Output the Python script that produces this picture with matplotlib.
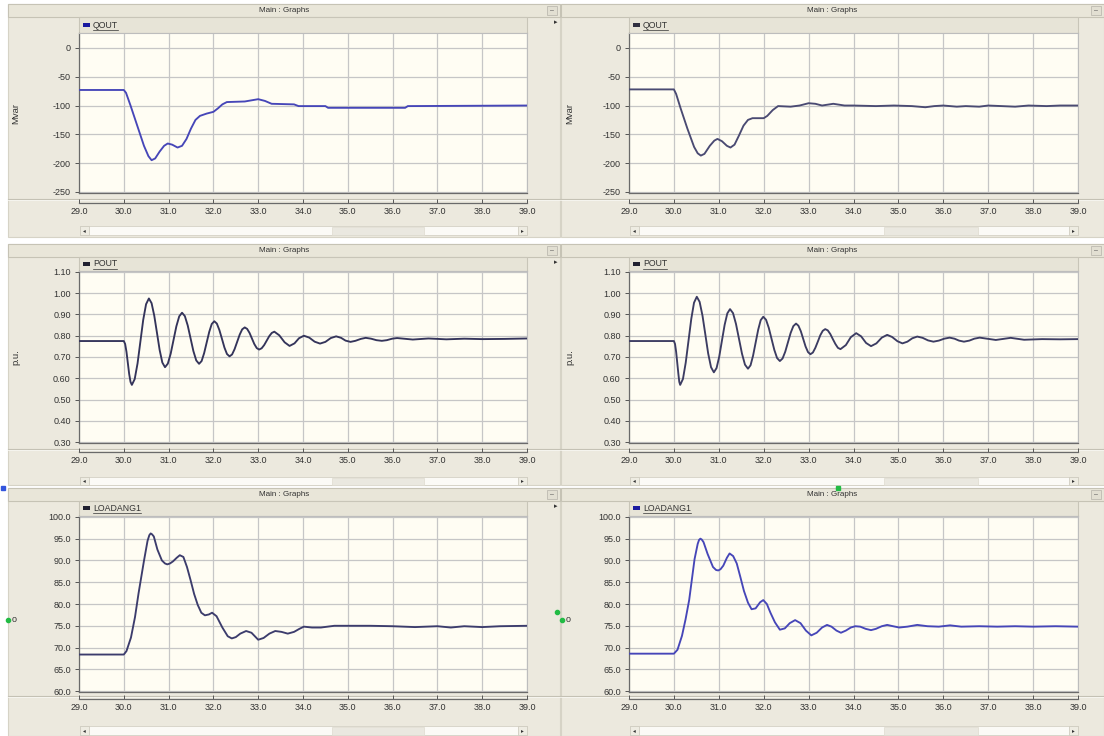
import matplotlib
matplotlib.use('Agg')
import matplotlib.pyplot as plt
from matplotlib.patches import Rectangle

# ---- data (time in s) ----
t_qout_a = [29.0, 30.0, 30.05, 30.15, 30.3, 30.45, 30.55, 30.62, 30.7, 30.8, 30.9, 30.98, 31.08, 31.2,
            31.3, 31.4, 31.5, 31.6, 31.7, 31.85, 32.0, 32.1, 32.2, 32.3, 32.7, 32.85, 33.0, 33.15, 33.3,
            33.8, 33.9, 34.5, 34.56, 36.28, 36.34, 39.0]
qout_a = [-73, -73, -78, -100, -135, -170, -188, -195, -192, -180, -170, -166, -168, -173,
          -170, -158, -140, -125, -118, -114, -111, -105, -98, -94, -93, -91, -89, -92, -97,
          -98, -101, -101, -104, -104, -101, -100]

t_qout_b = [29.0, 30.0, 30.05, 30.15, 30.3, 30.45, 30.53, 30.6, 30.68, 30.8, 30.9, 30.97, 31.07, 31.18,
            31.26, 31.35, 31.45, 31.55, 31.65, 31.75, 32.0, 32.08, 32.2, 32.32, 32.6, 32.8, 33.0, 33.15,
            33.3, 33.55, 33.8, 34.0, 34.5, 34.9, 35.3, 35.6, 35.8, 36.0, 36.3, 36.5, 36.8, 37.0, 37.3,
            37.6, 37.9, 38.3, 38.6, 39.0]
qout_b = [-72, -72, -80, -105, -140, -172, -183, -187, -184, -170, -161, -158, -162, -170,
          -173, -168, -152, -135, -125, -122, -122, -118, -108, -101, -102, -100, -96, -97,
          -100, -97, -100, -100, -101, -100, -101, -103, -101, -100, -102, -101, -102, -100, -101,
          -102, -100, -101, -100, -100]

t_pout_a = [29.0, 30.0, 30.03, 30.06, 30.09, 30.12, 30.15, 30.18,
            30.243, 30.307, 30.37, 30.433, 30.497, 30.56,
            30.62, 30.68, 30.74, 30.8, 30.86, 30.92,
            30.983, 31.047, 31.11, 31.173, 31.237, 31.3,
            31.363, 31.427, 31.49, 31.553, 31.617, 31.68,
            31.737, 31.793, 31.85, 31.907, 31.963, 32.02,
            32.077, 32.133, 32.19, 32.247, 32.303, 32.36,
            32.417, 32.473, 32.53, 32.587, 32.643, 32.7,
            32.753, 32.807, 32.86, 32.913, 32.967, 33.02,
            33.077, 33.133, 33.19, 33.247, 33.303, 33.36,
            33.47, 33.59, 33.7, 33.81, 33.91, 34.02, 34.14, 34.26,
            34.38, 34.5, 34.62, 34.74, 34.85, 34.95, 35.06, 35.17, 35.29, 35.4, 35.52, 35.64, 35.76,
            35.87, 35.99, 36.1, 36.45, 36.8, 37.2, 37.6, 38.0, 38.5, 39.0]
pout_a = [0.775, 0.775, 0.761, 0.724, 0.672, 0.620, 0.583, 0.569,
          0.596, 0.670, 0.772, 0.874, 0.948, 0.975,
          0.953, 0.894, 0.814, 0.733, 0.674, 0.652,
          0.669, 0.716, 0.780, 0.844, 0.891, 0.908,
          0.892, 0.848, 0.788, 0.728, 0.684, 0.668,
          0.681, 0.718, 0.768, 0.818, 0.855, 0.868,
          0.857, 0.827, 0.786, 0.744, 0.714, 0.703,
          0.712, 0.737, 0.771, 0.805, 0.830, 0.839,
          0.832, 0.813, 0.787, 0.761, 0.742, 0.735,
          0.741, 0.756, 0.777, 0.798, 0.813, 0.819,
          0.802, 0.769, 0.752, 0.764, 0.788, 0.800, 0.791, 0.772,
          0.763, 0.771, 0.789, 0.797, 0.790, 0.777, 0.771, 0.776, 0.785, 0.790, 0.786, 0.779, 0.776,
          0.779, 0.786, 0.789, 0.782, 0.787, 0.783, 0.786, 0.784, 0.785, 0.787]

t_pout_b = [29.0, 30.0, 30.025, 30.05, 30.075, 30.1, 30.12, 30.14,
            30.202, 30.263, 30.325, 30.387, 30.448, 30.51,
            30.573, 30.637, 30.7, 30.763, 30.827, 30.89,
            30.95, 31.01, 31.07, 31.13, 31.19, 31.25,
            31.317, 31.383, 31.45, 31.517, 31.583, 31.65,
            31.707, 31.763, 31.82, 31.877, 31.933, 31.99,
            32.052, 32.113, 32.175, 32.237, 32.298, 32.36,
            32.42, 32.48, 32.54, 32.6, 32.66, 32.72,
            32.773, 32.827, 32.88, 32.933, 32.987, 33.04,
            33.095, 33.15, 33.205, 33.26, 33.315, 33.37,
            33.427, 33.483, 33.54, 33.597, 33.653, 33.71,
            33.83, 33.94, 34.06, 34.17, 34.28,
            34.39, 34.51, 34.63, 34.75, 34.86, 34.98, 35.09, 35.2, 35.31, 35.42, 35.54, 35.66, 35.78,
            35.9, 36.02, 36.14, 36.25, 36.35, 36.46, 36.58, 36.69, 36.81, 37.17, 37.5, 37.8, 38.2,
            38.6, 39.0]
pout_b = [0.775, 0.775, 0.761, 0.724, 0.672, 0.620, 0.583, 0.569,
          0.597, 0.673, 0.776, 0.879, 0.955, 0.983,
          0.959, 0.894, 0.806, 0.717, 0.652, 0.628,
          0.648, 0.702, 0.777, 0.851, 0.905, 0.925,
          0.906, 0.855, 0.785, 0.715, 0.664, 0.645,
          0.661, 0.706, 0.767, 0.828, 0.873, 0.889,
          0.875, 0.837, 0.785, 0.733, 0.695, 0.681,
          0.693, 0.725, 0.769, 0.813, 0.845, 0.857,
          0.847, 0.821, 0.785, 0.749, 0.723, 0.713,
          0.721, 0.743, 0.772, 0.802, 0.823, 0.831,
          0.825, 0.808, 0.784, 0.761, 0.743, 0.737,
          0.756, 0.793, 0.812, 0.797, 0.766,
          0.751, 0.764, 0.791, 0.804, 0.794, 0.774, 0.764, 0.772, 0.788, 0.796, 0.790, 0.778, 0.772,
          0.777, 0.786, 0.791, 0.786, 0.777, 0.772, 0.777, 0.786, 0.791, 0.780, 0.790, 0.781, 0.784,
          0.783, 0.784]

t_ang_a = [29.0, 30.0, 30.06, 30.16, 30.25, 30.33, 30.45, 30.53, 30.57, 30.6, 30.63, 30.67, 30.75,
           30.85, 30.92, 30.97, 31.03, 31.1, 31.18, 31.25, 31.33, 31.41, 31.49, 31.57, 31.65, 31.73,
           31.81, 31.9, 31.97, 32.07, 32.2, 32.32, 32.41, 32.5, 32.6, 32.73, 32.85, 33.0, 33.12, 33.25,
           33.38, 33.52, 33.66, 33.8, 33.92, 34.02, 34.2, 34.4, 34.7, 35.0, 35.5, 36.0, 36.5, 37.0,
           37.3, 37.6, 38.0, 38.4, 39.0]
ang_a = [68.4, 68.4, 69.2, 72.3, 77.0, 82.5, 89.9, 94.5, 95.8, 96.2, 96.0, 95.5, 92.5,
         90.0, 89.3, 89.1, 89.3, 89.8, 90.6, 91.2, 90.8, 88.5, 85.5, 82.3, 79.8, 78.0,
         77.4, 77.6, 78.0, 77.2, 74.6, 72.6, 72.1, 72.4, 73.2, 73.8, 73.4, 71.8, 72.2, 73.2,
         73.8, 73.6, 73.2, 73.6, 74.3, 74.8, 74.6, 74.6, 75.0, 75.0, 75.0, 74.9, 74.7, 74.9,
         74.6, 74.9, 74.7, 74.9, 75.0]

t_ang_b = [29.0, 30.0, 30.08, 30.18, 30.26, 30.34, 30.46, 30.53, 30.56, 30.59, 30.62, 30.66, 30.75,
           30.87, 30.94, 30.99, 31.04, 31.1, 31.18, 31.24, 31.32, 31.4, 31.48, 31.56, 31.65, 31.73,
           31.82, 31.92, 31.99, 32.07, 32.15, 32.25, 32.36, 32.47, 32.58, 32.7, 32.82, 32.94, 33.06,
           33.18, 33.3, 33.41, 33.51, 33.62, 33.72, 33.83, 33.94, 34.04, 34.15, 34.27, 34.39, 34.5,
           34.63, 34.75, 34.88, 35.02, 35.2, 35.42, 35.65, 35.9, 36.15, 36.4, 36.8, 37.2, 37.6, 38.0,
           38.5, 39.0]
ang_b = [68.6, 68.6, 69.5, 72.7, 76.5, 80.9, 90.3, 93.8, 94.7, 95.0, 94.8, 94.2, 91.5,
         88.5, 87.8, 87.7, 88.0, 88.8, 90.6, 91.6, 91.0, 89.3, 86.2, 83.0, 80.3, 78.8,
         79.0, 80.4, 80.9, 80.0, 78.0, 75.8, 74.1, 74.4, 75.6, 76.3, 75.6, 73.9, 72.8,
         73.4, 74.6, 75.2, 74.8, 73.9, 73.4, 73.9, 74.6, 74.9, 74.8, 74.3, 74.0, 74.3,
         74.9, 75.2, 74.9, 74.6, 74.8, 75.2, 74.9, 74.8, 75.1, 74.8, 74.9, 74.8, 74.9, 74.8,
         74.9, 74.8]

x_ticks = [29, 30, 31, 32, 33, 34, 35, 36, 37, 38, 39]
q_ticks = [0, -50, -100, -150, -200, -250]
p_ticks = [1.10, 1.00, 0.90, 0.80, 0.70, 0.60, 0.50, 0.40, 0.30]
a_ticks = [100, 95, 90, 85, 80, 75, 70, 65, 60]

W, H = 1104, 736
plt.rcParams['font.family'] = ['Liberation Sans', 'DejaVu Sans']
fig = plt.figure(figsize=(W / 100, H / 100), dpi=100, facecolor='white')
renderer = fig.canvas.get_renderer()


def frac(x0, y0, x1, y1):
    return [x0 / W, 1 - y1 / H, (x1 - x0) / W, (y1 - y0) / H]


bg = fig.add_axes([0, 0, 1, 1])
bg.set_xlim(0, W)
bg.set_ylim(H, 0)
bg.axis('off')

# pixel layout of the PSCAD windows
cols = [dict(px0=8, px1=560, ax0=79, ax1=527, thumb=(332, 424), ylab=16),
        dict(px0=561, px1=1104, ax0=629, ax1=1078, thumb=(884, 978), ylab=570)]
rows = [dict(py0=4, py1=237, title=(4, 17), leg=(17, 33), plot=(33, 193), sep=199, xax=203, sb=(226, 235)),
        dict(py0=244, py1=485, title=(244, 257), leg=(257, 271), plot=(271, 443), sep=449, xax=452, sb=(477, 485)),
        dict(py0=488, py1=736, title=(488, 501), leg=(501, 516), plot=(516, 692), sep=696, xax=699, sb=(726, 735))]

panels = [
    (0, 0, t_qout_a, qout_a, 'QOUT', '#4646b8', '#1a1aa0', (-252, 26), q_ticks, '{:.0f}', 'Mvar'),
    (0, 1, t_qout_b, qout_b, 'QOUT', '#4a4a72', '#303040', (-252, 26), q_ticks, '{:.0f}', 'Mvar'),
    (1, 0, t_pout_a, pout_a, 'POUT', '#34345a', '#202030', (0.296, 1.104), p_ticks, '{:.2f}', 'p.u.'),
    (1, 1, t_pout_b, pout_b, 'POUT', '#3c3c62', '#202030', (0.296, 1.104), p_ticks, '{:.2f}', 'p.u.'),
    (2, 0, t_ang_a, ang_a, 'LOADANG1', '#3c3c6c', '#202030', (59.8, 100.2), a_ticks, '{:.1f}', 'o'),
    (2, 1, t_ang_b, ang_b, 'LOADANG1', '#4646b8', '#1a1aa0', (59.8, 100.2), a_ticks, '{:.1f}', 'o'),
]

for r, c, tt, vv, name, lc, mc, ylim, yt, fmt, unit in panels:
    row, col = rows[r], cols[c]
    px0, px1, ax0, ax1 = col['px0'], col['px1'], col['ax0'], col['ax1']

    # window frame
    bg.add_patch(Rectangle((px0, row['py0']), px1 - px0, row['py1'] - row['py0'],
                           facecolor='#ece9de', edgecolor='#d6d3c6', lw=0.8))
    ty0, ty1 = row['title']
    bg.add_patch(Rectangle((px0, ty0), px1 - px0, ty1 - ty0, facecolor='#e9e6d9',
                           edgecolor='#c6c3b5', lw=0.8))
    bg.text((px0 + px1) / 2, (ty0 + ty1) / 2 + 0.5, 'Main : Graphs', fontsize=5.8,
            color='#333333', ha='center', va='center')
    bg.add_patch(Rectangle((px1 - 13, ty0 + 2), 10, ty1 - ty0 - 4, facecolor='#e2dfd2',
                           edgecolor='#bdbab0', lw=0.6))
    bg.text(px1 - 8, (ty0 + ty1) / 2, '–', fontsize=5, color='#555555', ha='center', va='center')
    if c == 0:
        bg.text(px1 - 4, ty1 + 5, '▸', fontsize=5, color='#333333', ha='center', va='center',
                family=['DejaVu Sans'])

    # legend strip with underlined signal name
    ly0, ly1 = row['leg']
    bg.add_patch(Rectangle((ax0, ly0), ax1 - ax0, ly1 - ly0, facecolor='#e7e4d7',
                           edgecolor='#c8c5b8', lw=0.8))
    bg.add_patch(Rectangle((ax0 + 4, (ly0 + ly1) / 2 - 2.5), 7, 4, facecolor=mc, edgecolor='none'))
    lab = bg.text(ax0 + 14, (ly0 + ly1) / 2, name, fontsize=6.3,
                  color='#333333', ha='left', va='center')
    bb = lab.get_window_extent(renderer=renderer)
    x_end = ax0 + 14 + bb.width
    bg.plot([ax0 + 14, x_end], [(ly0 + ly1) / 2 + 4.5, (ly0 + ly1) / 2 + 4.5], color='#333333', lw=0.5)

    # separator and scrollbar
    bg.plot([px0, px1], [row['sep'], row['sep']], color='#c4c1b4', lw=0.8)
    bg.plot([px0, px1], [row['sep'] + 1, row['sep'] + 1], color='#f8f7f2', lw=0.6)
    sy0, sy1 = row['sb']
    bg.add_patch(Rectangle((ax0 + 1, sy0), ax1 - ax0 - 1, sy1 - sy0, facecolor='#fbfaf6',
                           edgecolor='#d4d1c6', lw=0.6))
    bg.add_patch(Rectangle((col['thumb'][0], sy0 + 0.5), col['thumb'][1] - col['thumb'][0], sy1 - sy0 - 1,
                           facecolor='#eae8e0', edgecolor='#dedbd0', lw=0.5))
    for bx, glyph in ((ax0 + 1, '◂'), (ax1 - 9, '▸')):
        bg.add_patch(Rectangle((bx, sy0), 9, sy1 - sy0, facecolor='#eeece2', edgecolor='#cfccc0', lw=0.6))
        bg.text(bx + 4.5, (sy0 + sy1) / 2, glyph, fontsize=4, color='#333333', ha='center', va='center',
                family=['DejaVu Sans'])

    # axis unit label
    p0, p1 = row['plot']
    if unit == 'o':
        bg.text(col['ylab'] - 2, (p0 + p1) / 2 + 16, unit, fontsize=6.5, color='#333333',
                ha='center', va='center')
        bg.plot([col['ylab'] - 8], [(p0 + p1) / 2 + 16], 'o', ms=3, color='#22bb44')
    else:
        bg.text(col['ylab'], (p0 + p1) / 2, unit, fontsize=6.8, color='#333333', rotation=90,
                ha='center', va='center')

    # plot area
    ax = fig.add_axes(frac(ax0, p0, ax1, p1))
    ax.set_facecolor('#fffdf3')
    ax.plot(tt, vv, color=lc, lw=1.35, zorder=3, solid_joinstyle='round')
    ax.set_xlim(29, 39)
    ax.set_ylim(*ylim)
    ax.set_xticks(x_ticks)
    ax.set_yticks(yt)
    ax.set_yticklabels([fmt.format(v) for v in yt])
    ax.grid(True, color='#c6c6c6', lw=0.9)
    ax.set_axisbelow(True)
    ax.tick_params(axis='x', length=0, labelbottom=False)
    ax.tick_params(axis='y', direction='out', length=3, width=0.7, pad=3, labelsize=6.5,
                   colors='#555555', labelcolor='#333333')
    for side in ('left', 'bottom'):
        ax.spines[side].set_color('#6a6a6a')
        ax.spines[side].set_linewidth(0.9)
    for side in ('top', 'right'):
        ax.spines[side].set_color('#bdbdbd')
        ax.spines[side].set_linewidth(0.8)

    # detached time axis
    xa = fig.add_axes(frac(ax0, row['xax'] - 1, ax1, row['xax']))
    xa.set_facecolor('none')
    xa.set_xlim(29, 39)
    xa.set_yticks([])
    xa.set_xticks(x_ticks)
    xa.set_xticklabels(['{:.1f}'.format(v) for v in x_ticks])
    xa.tick_params(axis='x', direction='in', length=3, width=0.7, pad=3, labelsize=6.5,
                   colors='#555555', labelcolor='#333333')
    for side in ('left', 'right', 'top'):
        xa.spines[side].set_visible(False)
    xa.spines['bottom'].set_color('#6a6a6a')
    xa.spines['bottom'].set_linewidth(0.9)

# small marker dots seen on the bottom windows
bg.plot([557], [612], 'o', ms=3, color='#22bb44')
bg.plot([838], [488], 's', ms=2.5, color='#22bb44')
bg.plot([3], [488], 's', ms=2.5, color='#3355dd')

fig.savefig('out.png', dpi=100, facecolor=fig.get_facecolor())
